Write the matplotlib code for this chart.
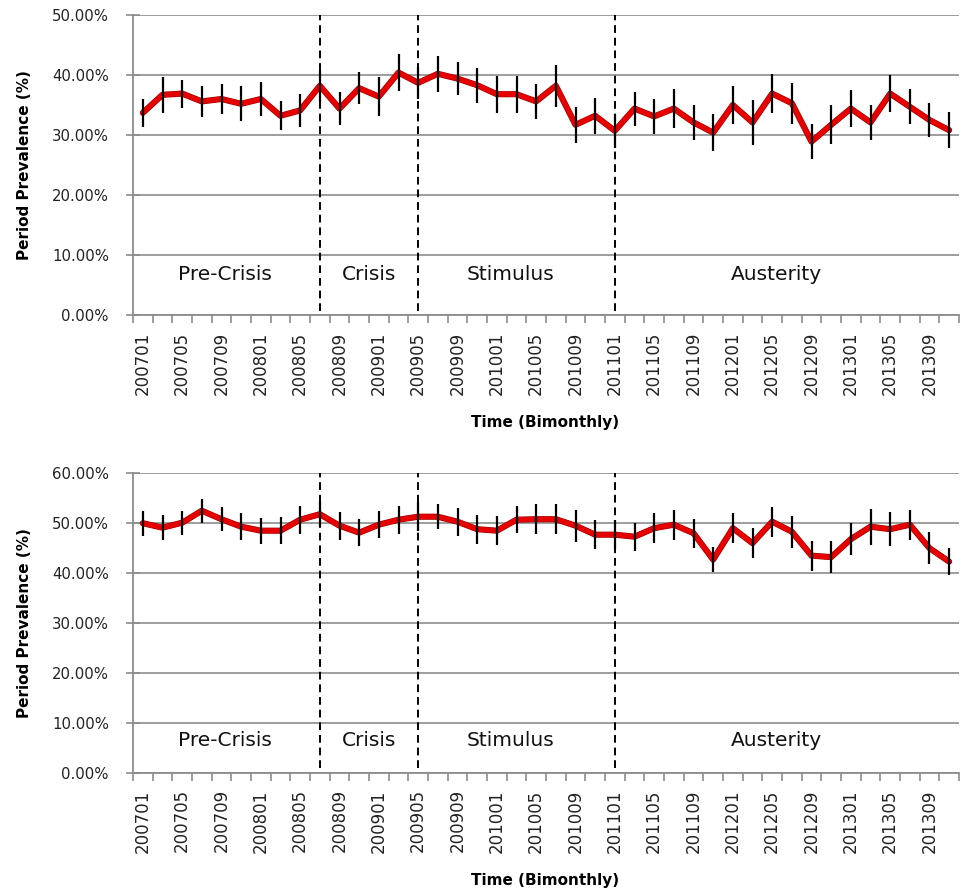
import numpy as np
import matplotlib
matplotlib.use("Agg")
import matplotlib.pyplot as plt
import matplotlib.patheffects as pe
from matplotlib.ticker import FuncFormatter, FixedLocator

# ---------------- data ----------------
tick_labels = ['200701', '200705', '200709', '200801', '200805', '200809',
               '200901', '200905', '200909', '201001', '201005', '201009',
               '201101', '201105', '201109', '201201', '201205', '201209',
               '201301', '201305', '201309']

top_values = [33.7, 36.7, 36.9, 35.6, 36.0, 35.2, 36.0, 33.2, 34.1, 38.2,
              34.4, 37.8, 36.4, 40.4, 38.7, 40.2, 39.4, 38.3, 36.8, 36.8,
              35.6, 38.2, 31.7, 33.2, 30.7, 34.4, 33.1, 34.4, 32.1, 30.4,
              35.0, 32.1, 36.9, 35.3, 28.9, 31.7, 34.4, 32.1, 36.9, 34.7,
              32.5, 30.8]
top_errors = [2.36, 3.0, 2.33, 2.64, 2.56, 2.9, 2.8, 2.44, 2.7, 2.7,
              2.8, 2.7, 3.2, 3.05, 2.7, 3.05, 2.8, 2.95, 3.1, 3.05,
              2.86, 3.5, 3.05, 2.97, 2.8, 2.83, 2.97, 3.25, 2.9, 3.05,
              3.1, 3.7, 3.2, 3.4, 2.95, 3.25, 3.05, 2.9, 3.05, 2.9,
              2.9, 2.97]

bottom_values = [50.0, 49.1, 50.1, 52.5, 50.8, 49.3, 48.5, 48.5, 50.7, 51.8,
                 49.5, 48.1, 49.7, 50.7, 51.3, 51.3, 50.3, 48.8, 48.5, 50.7,
                 50.8, 50.8, 49.5, 47.7, 47.7, 47.3, 49.0, 49.7, 48.0, 42.7,
                 49.0, 46.0, 50.3, 48.3, 43.5, 43.2, 46.8, 49.3, 48.8, 49.7,
                 45.0, 42.3]
bottom_errors = [2.53, 2.5, 2.43, 2.4, 2.37, 2.67, 2.6, 2.7, 2.8, 2.6,
                 2.77, 2.67, 2.67, 2.8, 2.9, 2.53, 2.77, 2.9, 2.87, 2.67,
                 3.0, 3.0, 3.23, 2.87, 2.9, 2.8, 3.0, 3.0, 2.93, 2.57,
                 3.0, 3.0, 2.97, 3.17, 3.0, 3.17, 3.23, 3.57, 3.37, 3.0,
                 3.17, 2.67]

phase_boundaries = [9, 14, 24]           # category index of dashed lines
phase_names = ['Pre-Crisis', 'Crisis', 'Stimulus', 'Austerity']
phase_centers = [4.2, 11.5, 18.7, 32.2]  # category position of phase labels

# ---------------- figure ----------------
W, H = 963, 892
fig = plt.figure(figsize=(W / 100, H / 100), dpi=100)

GRID = '#8c8c8c'


def draw_panel(ax, values, errors, ymax, label_y):
    n = len(values)
    x = np.arange(n)
    ax.set_xlim(-0.5, n - 0.5)
    ax.set_ylim(0, ymax)
    ax.set_yticks(np.arange(0, ymax + 0.1, 10))
    ax.yaxis.set_major_formatter(FuncFormatter(lambda v, p: f'{v:.2f}%'))
    ax.grid(axis='y', color=GRID, lw=1.2)
    ax.set_axisbelow(True)
    for s in ['top', 'right']:
        ax.spines[s].set_visible(False)
    for s in ['left', 'bottom']:
        ax.spines[s].set_color(GRID)
        ax.spines[s].set_linewidth(1.3)
    ax.tick_params(axis='y', direction='inout', length=10, width=1.2,
                   color=GRID, labelsize=10.7, pad=12.3, labelcolor='#222222')

    ax.xaxis.set_major_locator(FixedLocator(np.arange(0, n, 2)[:len(tick_labels)]))
    ax.set_xticklabels(tick_labels, rotation=90)
    ax.xaxis.set_minor_locator(FixedLocator(np.arange(-0.5, n, 1)))
    ax.tick_params(axis='x', which='major', length=0, labelsize=12, pad=12,
                   labelcolor='#222222')
    ax.tick_params(axis='x', which='minor', direction='out', length=5.5,
                   width=1.2, color=GRID)

    for b in phase_boundaries:
        ax.axvline(b, ymin=0.015, color='black', ls=(0, (4, 2.5)), lw=1.4, zorder=2)

    for name, cx in zip(phase_names, phase_centers):
        ax.text(cx, label_y, name, ha='center', va='center', fontsize=14.5,
                color='#111111')

    ax.plot(x, values, color='#e60000', lw=3.6, zorder=3,
            solid_joinstyle='round', solid_capstyle='round',
            path_effects=[pe.Stroke(linewidth=4.4, foreground='#9a0000'),
                          pe.Normal()])
    ax.errorbar(x, values, yerr=errors, fmt='none', ecolor='black',
                elinewidth=1.6, capsize=0, zorder=4)


ax1 = fig.add_axes([133 / W, 1 - 315 / H, 826 / W, 300 / H])
draw_panel(ax1, top_values, top_errors, 50, 6.7)

ax2 = fig.add_axes([133 / W, 1 - 772.7 / H, 826 / W, 299.4 / H])
draw_panel(ax2, bottom_values, bottom_errors, 60, 6.5)

for yc in [165, 623]:
    fig.text(25 / W, 1 - yc / H, 'Period Prevalence (%)', rotation=90,
             ha='center', va='center', fontsize=11, fontweight='bold')
for yc in [423, 880]:
    fig.text(545 / W, 1 - yc / H, 'Time (Bimonthly)', ha='center',
             va='center', fontsize=11, fontweight='bold')

fig.savefig('out.png', dpi=100)
